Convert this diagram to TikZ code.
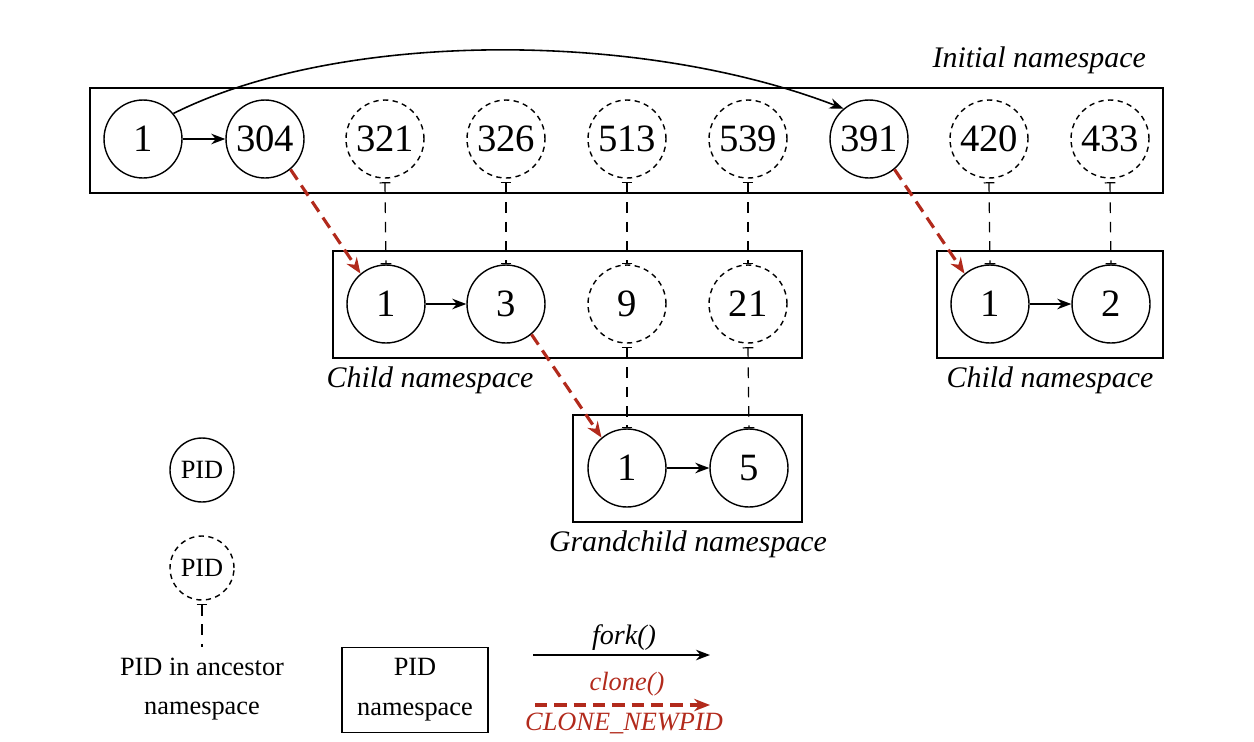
\documentclass[tikz,border=0pt]{standalone}
\usepackage{fontspec}
\setmainfont{Liberation Serif}
\usetikzlibrary{arrows.meta}
\definecolor{clonered}{RGB}{178,42,28}
\begin{document}
\begin{tikzpicture}[x=0.02cm,y=-0.02cm,
 pid/.style={circle,draw,line width=0.8pt,minimum size=1.56cm,inner sep=0pt,font=\fontsize{22}{26}\selectfont},
 gpid/.style={pid,dash pattern=on 3pt off 2.5pt},
 lpid/.style={circle,draw,line width=0.8pt,minimum size=1.28cm,inner sep=0pt,font=\fontsize{15}{18}\selectfont},
 lgpid/.style={lpid,dash pattern=on 3pt off 2.5pt},
 nsbox/.style={draw,line width=1pt},
 forkarrow/.style={line width=0.9pt,-{Stealth[length=8pt,width=6pt]}},
 clonearrow/.style={clonered,line width=1.8pt,dash pattern=on 7pt off 4pt,-{Stealth[length=9pt,width=7pt]}},
 anc/.style={line width=0.7pt,dash pattern=on 6pt off 5pt,{Bar[width=6pt]}-{Bar[width=6pt]}},
 nslabel/.style={font=\fontsize{17}{20}\selectfont\itshape},
 lgtext/.style={font=\fontsize{15}{18}\selectfont}]
\useasboundingbox (0,0) rectangle (1254,741);
% boxes
\draw[nsbox] (90,88) rectangle (1163,193);
\draw[nsbox] (333,251) rectangle (802,358);
\draw[nsbox] (937,251) rectangle (1163,358);
\draw[nsbox] (573,415) rectangle (802,522);
% top row
\node[pid]  (t1)   at (143,139) {1};
\node[pid]  (t304) at (265,139) {304};
\node[gpid] (t321) at (385,139) {321};
\node[gpid] (t326) at (506,139) {326};
\node[gpid] (t513) at (627,139) {513};
\node[gpid] (t539) at (748,139) {539};
\node[pid]  (t391) at (869,139) {391};
\node[gpid] (t420) at (989,139) {420};
\node[gpid] (t433) at (1110,139) {433};
% child 1
\node[pid]  (c1)  at (386,304) {1};
\node[pid]  (c3)  at (506,304) {3};
\node[gpid] (c9)  at (627,304) {9};
\node[gpid] (c21) at (748,304) {21};
% child 2
\node[pid] (d1) at (990,304) {1};
\node[pid] (d2) at (1111,304) {2};
% grandchild
\node[pid] (g1) at (627,468) {1};
\node[pid] (g5) at (749,468) {5};
% labels
\node[nslabel,anchor=east] (lInit) at (1152,60) {Initial namespace};
\node[nslabel] (lChild1) at (430,380) {Child namespace};
\node[nslabel] (lChild2) at (1050,380) {Child namespace};
\node[nslabel] (lGrand) at (688,544) {Grandchild namespace};
% ancestor links
\foreach \a/\b in {t321/c1,t326/c3,t513/c9,t539/c21,t420/d1,t433/d2,c9/g1,c21/g5}
  \draw[anc] ([yshift=-2pt]\a.south) -- (\b.north);
% fork arrows
\draw[forkarrow] (t1) -- (t304);
\draw[forkarrow] (c1) -- (c3);
\draw[forkarrow] (d1) -- (d2);
\draw[forkarrow] (g1) -- (g5);
\draw[forkarrow] (t1.40) .. controls (340,30) and (640,30) .. (t391.130);
% clone arrows
\draw[clonearrow] (t304.-50) -- (c1.130);
\draw[clonearrow] (t391.-50) -- (d1.130);
\draw[clonearrow] (c3.-50) -- (g1.130);
% legend
\node[lpid]  (lg1) at (202,470) {PID};
\node[lgpid] (lg2) at (202,568) {PID};
\coordinate (lgEnd) at (202,647);
\draw[line width=0.7pt,dash pattern=on 6pt off 5pt,{Bar[width=6pt]}-] ([yshift=-2pt]lg2.south) -- (lgEnd);
\node[lgtext] (lgA1) at (202,667) {PID in ancestor};
\node[lgtext] (lgA2) at (202,711) {namespace};
\node[nsbox,minimum width=2.92cm,minimum height=1.7cm] (lgbox) at (415,690) {};
\node[lgtext] (lgB1) at (415,667) {PID};
\node[lgtext] (lgB2) at (415,712) {namespace};
\coordinate (fa) at (533,655);
\coordinate (fb) at (710,655);
\draw[forkarrow] (fa) -- (fb);
\node[font=\fontsize{16}{19}\selectfont\itshape] (lfork) at (624,638) {fork()};
\coordinate (ca) at (535,705);
\coordinate (cb) at (710,705);
\draw[clonearrow] (ca) -- (cb);
\node[font=\fontsize{15}{18}\selectfont\itshape,text=clonered] (lclone) at (627,684) {clone()};
\node[font=\fontsize{15}{18}\selectfont\itshape,text=clonered] (lcnp) at (624,723) {CLONE\_NEWPID};
\end{tikzpicture}
\end{document}
